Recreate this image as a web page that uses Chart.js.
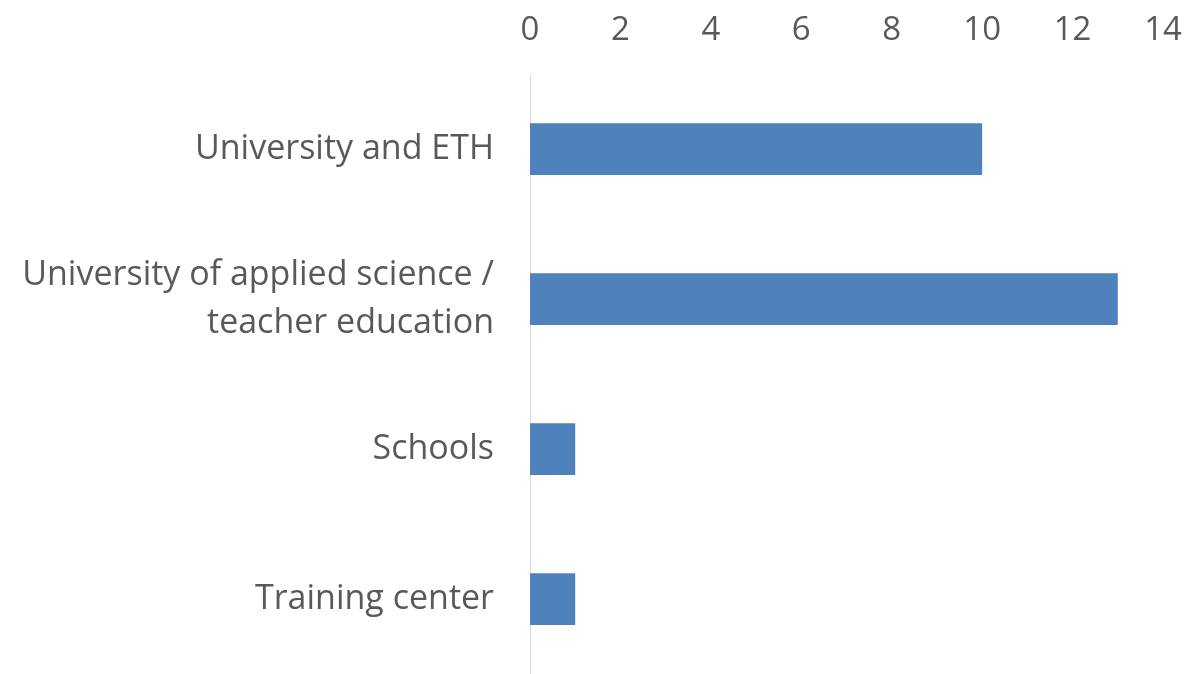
<!DOCTYPE html>
<html>
<head>
<meta charset="utf-8">
<script src="https://cdn.jsdelivr.net/npm/chart.js@4"></script>
<style>
html,body{margin:0;padding:0;background:#fff;}
#wrap{width:1190px;height:674px;}
</style>
</head>
<body>
<div id="wrap"><canvas id="c" width="1190" height="674"></canvas></div>
<script>
const categories = ["University and ETH", ["University of applied science /", "teacher education"], "Schools", "Training center"];
const values = [10, 13, 1, 1];
const tickMin = 0, tickMax = 14, tickStep = 2;

new Chart(document.getElementById('c'), {
  type: 'bar',
  data: {
    labels: categories,
    datasets: [{
      data: values,
      backgroundColor: '#4F81BD',
      borderWidth: 0,
      categoryPercentage: 1,
      barPercentage: 0.345
    }]
  },
  options: {
    indexAxis: 'y',
    responsive: false,
    animation: false,
    devicePixelRatio: 1,
    layout: { padding: { left: 0, right: 27, top: 0, bottom: 0 } },
    plugins: { legend: { display: false }, tooltip: { enabled: false } },
    scales: {
      x: {
        position: 'top',
        min: tickMin, max: tickMax,
        ticks: { stepSize: tickStep, color: '#595959', font: { family: 'Open Sans', size: 33 }, padding: 16 },
        grid: { display: false },
        border: { display: false },
        afterFit: s => { s.height = 74; s.paddingLeft = 0; s.paddingRight = 0; }
      },
      y: {
        ticks: { color: '#595959', font: { family: 'Open Sans', size: 34, lineHeight: 1.42 }, padding: 28 },
        grid: { display: false },
        border: { display: true, color: '#D9D9D9', width: 1 },
        afterFit: s => { s.width = 530; s.paddingTop = 0; s.paddingBottom = 0; }
      }
    }
  }
});
</script>
</body>
</html>
